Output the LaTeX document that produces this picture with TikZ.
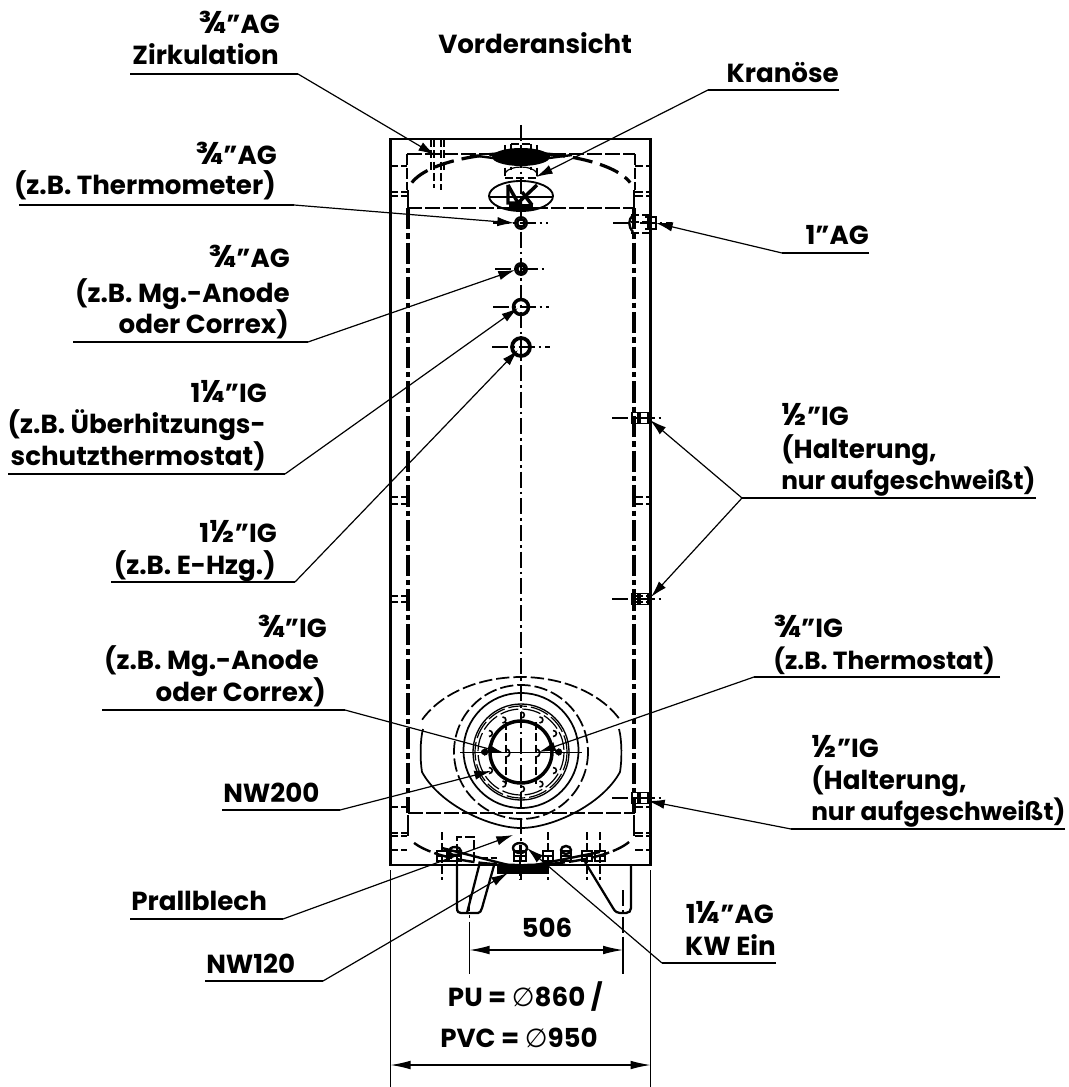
\documentclass[tikz,border=0pt]{standalone}
\usepackage{fontspec}
\usepackage{graphicx}
\setmainfont{Poppins}
\newfontfamily\dvfont{DejaVu Sans}
\newcommand{\fr}[1]{\scalebox{1.2}{#1}}
\newcommand{\dm}{{\mdseries\dvfont ∅}}
\usetikzlibrary{arrows.meta}
\tikzset{
 x=0.75pt,y=-0.75pt,
 lbl/.style={font=\fontsize{19.6}{22}\selectfont\bfseries,inner sep=0pt,text=black},
 lblw/.style={font=\fontsize{18.6}{22}\selectfont\bfseries,inner sep=0pt,text=black},
 ul/.style={line width=0.9pt,black},
 leader/.style={line width=0.9pt,black,-{Latex[length=12.5pt,width=7pt]}},
 dimline/.style={line width=0.9pt,black,{Latex[length=15pt,width=6.5pt]}-{Latex[length=15pt,width=6.5pt]}},
 ext/.style={line width=0.9pt,black},
 body/.style={line width=1.8pt,black},
 heavydash/.style={line width=2pt,black,dash pattern=on 11pt off 2.5pt},
 heavydd/.style={line width=2.4pt,black,dash pattern=on 16pt off 3pt on 4pt off 3pt},
 thin/.style={line width=0.9pt,black},
 tdash/.style={line width=0.9pt,black,dash pattern=on 6pt off 2.5pt},
 cl/.style={line width=0.9pt,black,dash pattern=on 12pt off 3pt on 2pt off 3pt},
 solidm/.style={line width=1.3pt,black},
 dashm/.style={line width=1.3pt,black,dash pattern=on 10pt off 3pt},
}
\begin{document}
\begin{tikzpicture}
\useasboundingbox (0,0) rectangle (1069,1087);
\fill[white] (0,0) rectangle (1069,1087);
% centre lines
\draw[cl] (521,125) -- (521,880);
\draw[cl] (613,223) -- (672,223);
\draw[cl] (493,223) -- (548,223);
\draw[cl] (495,269) -- (548,269);
\draw[cl] (493,307) -- (549,307);
\draw[cl] (492,347) -- (550,347);
\draw[cl] (612,418) -- (665,418);
\draw[cl] (612,599) -- (665,599);
\draw[cl] (612,798) -- (665,798);
% casing and tank
\draw[body] (390.5,865) -- (390.5,139) -- (650.5,139) -- (650.5,865) -- cycle;
\draw[heavydash] (407,208) -- (635,208);
\draw[heavydash] (407,154) -- (635,154);
\draw[heavydash] (408,813) -- (635,813);
\draw[line width=1.4pt,dash pattern=on 8pt off 2.5pt] (407,154) -- (407,190);
\draw[line width=1.4pt,dash pattern=on 8pt off 2.5pt] (635,154) -- (635,190);
\draw[heavydd] (408,208) -- (408,813);
\draw[heavydd] (634,208) -- (634,813);
% dome top
\draw[line width=2.4pt,black,dash pattern=on 15pt off 6pt,domain=-165:-15,samples=60] plot ({521+113*cos(\x)},{193+40*sin(\x)});
\draw[line width=1.8pt] (408,190) -- (408,208) (634,190) -- (634,208);
% dome bottom
\draw[line width=1.8pt,black,domain=20:160,samples=60,dash pattern=on 14pt off 3pt] plot ({521+115*cos(\x)},{830+35*sin(\x)});
\draw[line width=1.8pt] (408,815) -- (408,836) (634,815) -- (634,836);
% side stubs
\foreach \yy in {166,192,196,497,504,596,602,807,833,836,850}{
 \draw[tdash] (390,\yy) -- (407,\yy);
 \draw[tdash] (635,\yy) -- (651,\yy);
}
% circulation fitting
\draw[tdash] (431,139) -- (431,172) (444,139) -- (444,172) (434,139) -- (434,188) (441,139) -- (441,190);
% top flange
\fill[black] (521,157) ellipse [x radius=29, y radius=9];
\draw[line width=1.8pt] (470,155) -- (493,158) (549,158) -- (572,155);
\draw[thin] (505,173) .. controls (510,165) and (532,165) .. (537,173);
\draw[tdash] (505,145) -- (505,178) (537,145) -- (537,178) (511,144) -- (531,144) (511,144)--(511,170) (531,144)--(531,170) (505,178)--(537,178);
% eye
\draw[line width=1.4pt] (521,196) ellipse [x radius=32, y radius=15];
\draw[line width=2.6pt] (508,185) -- (518,203) -- (537,185);
\draw[line width=2.6pt] (508,185) -- (508,203) -- (522,203) (522,192) -- (532,205);
\draw[thin] (490,197) -- (552,197);
\fill[black] (509,204) rectangle (533,211);
% upper ports
\draw[line width=1.4pt] (521,223) circle (6);
\draw[line width=2pt] (521,223) circle (4);
\draw[line width=1.4pt] (521,269) circle (6);
\draw[line width=2.2pt] (521,269) circle (4);
\draw[line width=2.6pt] (521,307) circle (7.5);
\draw[line width=2.8pt] (521,347) circle (9);
% 1" AG fitting
\draw[tdash] (631,215) -- (652,215) (631,233) -- (652,233) (631,222) -- (652,222);
\draw[line width=1.3pt] (645,217) -- (656,217) -- (656,229) -- (645,229) (648,217) -- (648,229);
\draw[line width=1.8pt] (633,215) .. controls (628,220) and (628,226) .. (633,232);
% side welded fittings
\foreach \yy in {418,599,798}{
 \draw[line width=1.2pt] (632,\yy-5.5) rectangle (638,\yy+5.5);
 \draw[line width=1.2pt] (640,\yy-5.5) rectangle (648,\yy+5.5);
 \draw[line width=1.2pt] (632,\yy) -- (648,\yy);
}
% manhole
\draw[dashm,domain=-154:-26,samples=50] plot ({521+110*cos(\x)},{753+76*sin(\x)});
\draw[solidm] (423,729) .. controls (420,740) and (420,760) .. (422,772) .. controls (440,805) and (490,828) .. (521,828) .. controls (552,828) and (602,805) .. (620,772) .. controls (622,760) and (622,740) .. (619,729);
\draw[dashm] (521,752) circle (67);
\draw[solidm] (521,750.5) circle (57.5);
\draw[line width=1pt] (521,752) circle (48);
\draw[line width=0.9pt,dash pattern=on 14pt off 3pt] (521,752) circle (46);
\draw[line width=0.9pt,dash pattern=on 14pt off 3pt] (521,752) circle (43);
\draw[line width=2.6pt] (521,752) circle (31);
\foreach \aa in {0,30,...,330}{
 \draw[line width=1.2pt] ({521+37*cos(\aa)},{752+37*sin(\aa)-3}) .. controls ({521+37*cos(\aa)+4.5},{752+37*sin(\aa)-3}) and ({521+37*cos(\aa)+4.5},{752+37*sin(\aa)+3}) .. ({521+37*cos(\aa)},{752+37*sin(\aa)+3});
}
\fill[black] (484,752) circle (3);
\fill[black] (558,752) circle (3);
\draw[tdash] (506,722) -- (506,784) (536,722) -- (536,784);
\draw[thin] (460,752.5) -- (582,752.5);
\draw[line width=1.2pt] (506,749) .. controls (511,749) and (511,757) .. (506,757) (536,749) .. controls (541,749) and (541,757) .. (536,757);
% bottom fittings
\foreach \xx/\ww in {442/5,455/6,520/6,548/5,566/5,587/5,600/5}{
 \draw[line width=1.5pt] (\xx-\ww,851) rectangle (\xx+\ww,861);
 \draw[thin] (\xx-\ww,856) -- (\xx+\ww,856);
}
\draw[tdash] (442,832) -- (442,880) (548,832) -- (548,880) (587,832) -- (587,880) (600,832) -- (600,880) (520,845)--(520,880);
\draw[line width=1.8pt] (520,848) ellipse [x radius=7, y radius=5];
\draw[line width=1.8pt] (566,850) ellipse [x radius=5, y radius=4];
\draw[line width=1.8pt] (455,851) ellipse [x radius=6, y radius=4];
\fill[black] (497,864) rectangle (548,874);
\draw[line width=1.8pt] (442,848) -- (520,868) -- (600,852);
% legs
\draw[line width=1.7pt] (457,865) -- (457,908) .. controls (457,912) and (459,913) .. (461,913) -- (478,913) .. controls (480,913) and (481,911) .. (482,908) -- (495,862);
\draw[line width=1.7pt] (480,862) -- (467,913);
\draw[line width=1.7pt,dash pattern=on 7pt off 2pt] (457,865) -- (457,837) -- (474,837) -- (474,865);
\draw[line width=1.4pt,dash pattern=on 6pt off 2pt] (480,858) -- (497,858);
\draw[line width=1.7pt] (585,862) -- (613,908) .. controls (615,912) and (618,913) .. (620,913) -- (626,913) .. controls (629,913) and (631,911) .. (631,908) -- (631,865);
% extension lines
\draw[ext,dash pattern=on 12pt off 3pt on 2pt off 3pt] (469.5,895) -- (469.5,937);
\draw[ext] (469.5,937) -- (469.5,974);
\draw[ext,dash pattern=on 12pt off 3pt on 2pt off 3pt] (623,890) -- (623,937);
\draw[ext] (623,937) -- (623,974);
\draw[ext] (390.5,870) -- (390.5,1087);
\draw[ext] (650.5,870) -- (650.5,1087);
\node[lbl,anchor=base] (d506) at (547,937) {506};
\coordinate (dA) at (469.5,950); \coordinate (dB) at (623,950);
\draw[dimline] (dA) -- (dB);
\coordinate (dC) at (390.5,1065); \coordinate (dD) at (650.5,1065);
\draw[dimline] (dC) -- (dD);
\node[lbl,anchor=base east] (pu) at (603,1006) {PU = \dm860 /};
\node[lbl,anchor=base east] (pvc) at (598,1047) {PVC = \dm950};
\node[lbl,anchor=base west] (title) at (438,54) {Vorderansicht};
% labels
\node[lbl,anchor=base east] (a1) at (280,34) {\fr{¾}"AG};
\node[lbl,anchor=base east] (a2) at (279,65) {Zirkulation};
\coordinate (a3) at (130,74); \coordinate (a4) at (298,74); \coordinate (a5) at (435,155);
\draw[ul] (a3) -- (a4); \draw[leader] (a4) -- (a5);
\node[lbl,anchor=base east] (b1) at (839,83) {Kranöse};
\coordinate (b3) at (839,90); \coordinate (b4) at (708,90); \coordinate (b5) at (536,177);
\draw[ul] (b3) -- (b4); \draw[leader] (b4) -- (b5);
\node[lbl,anchor=base east] (c1) at (277,165) {\fr{¾}"AG};
\node[lbl,anchor=base east] (c2) at (276,195) {(z.B. Thermometer)};
\coordinate (c3) at (19,205); \coordinate (c4) at (294,205); \coordinate (c5) at (514,223);
\draw[ul] (c3) -- (c4); \draw[leader] (c4) -- (c5);
\node[lbl,anchor=base east] (e1) at (869,245) {1"AG};
\coordinate (e3) at (869,253); \coordinate (e4) at (782,253); \coordinate (e5) at (656,223);
\draw[ul] (e3) -- (e4); \draw[leader] (e4) -- (e5);
\node[lbl,anchor=base east] (f1) at (290,268) {\fr{¾}"AG};
\node[lbl,anchor=base east] (f2) at (290,302) {(z.B. Mg.-Anode};
\node[lbl,anchor=base east] (f3) at (289,333) {oder Correx)};
\coordinate (f4) at (73,342); \coordinate (f5) at (308,342); \coordinate (f6) at (515,270);
\draw[ul] (f4) -- (f5); \draw[leader] (f5) -- (f6);
\node[lbl,anchor=base east] (g1) at (267,402) {1\fr{¼}"IG};
\node[lbl,anchor=base east] (g2) at (266,433) {(z.B. Überhitzungs-};
\node[lbl,anchor=base east] (g3) at (266,465) {schutzthermostat)};
\coordinate (g4) at (8,474); \coordinate (g5) at (285,474); \coordinate (g6) at (518,308);
\draw[ul] (g4) -- (g5); \draw[leader] (g5) -- (g6);
\node[lbl,anchor=base east] (h1) at (277,542) {1\fr{½}"IG};
\node[lbl,anchor=base east] (h2) at (276,574) {(z.B. E-Hzg.)};
\coordinate (h4) at (111,582); \coordinate (h5) at (295,582); \coordinate (h6) at (518,350);
\draw[ul] (h4) -- (h5); \draw[leader] (h5) -- (h6);
\node[lbl,anchor=base west] (i1) at (781,425) {\fr{½}"IG};
\node[lbl,anchor=base west] (i2) at (781,458) {(Halterung,};
\node[lblw,anchor=base west] (i3) at (781,489) {nur aufgeschweißt)};
\coordinate (i4) at (1036,498); \coordinate (i5) at (742,498); \coordinate (i6) at (650,420); \coordinate (i7) at (651,597);
\draw[ul] (i4) -- (i5); \draw[leader] (i5) -- (i6); \draw[leader] (i5) -- (i7);
\node[lbl,anchor=base east] (j1) at (327,637) {\fr{¾}"IG};
\node[lbl,anchor=base east] (j2) at (319,669) {(z.B. Mg.-Anode};
\node[lbl,anchor=base east] (j3) at (326,701) {oder Correx)};
\coordinate (j4) at (102,710); \coordinate (j5) at (345,710); \coordinate (j6) at (504,753);
\draw[ul] (j4) -- (j5); \draw[leader] (j5) -- (j6);
\node[lbl,anchor=base west] (k1) at (773,637) {\fr{¾}"IG};
\node[lblw,anchor=base west] (k2) at (773,669) {(z.B. Thermostat)};
\coordinate (k4) at (1000,677); \coordinate (k5) at (754,677); \coordinate (k6) at (539,752);
\draw[ul] (k4) -- (k5); \draw[leader] (k5) -- (k6);
\node[lbl,anchor=base west] (l1) at (811,757) {\fr{½}"IG};
\node[lbl,anchor=base west] (l2) at (811,789) {(Halterung,};
\node[lblw,anchor=base west] (l3) at (811,820) {nur aufgeschweißt)};
\coordinate (l4) at (1065,829); \coordinate (l5) at (791,829); \coordinate (l6) at (648,801);
\draw[ul] (l4) -- (l5); \draw[leader] (l5) -- (l6);
\node[lbl,anchor=base west] (m1) at (223,802) {NW200};
\coordinate (m4) at (222,810); \coordinate (m5) at (340,810); \coordinate (m6) at (491,771);
\draw[ul] (m4) -- (m5); \draw[leader] (m5) -- (m6);
\node[lbl,anchor=base west] (n1) at (131,910) {Prallblech};
\coordinate (n4) at (130,919); \coordinate (n5) at (283,919); \coordinate (n6) at (513,835);
\draw[ul] (n4) -- (n5); \draw[leader] (n5) -- (n6);
\node[lbl,anchor=base west] (o1) at (206,973) {NW120};
\coordinate (o4) at (205,981); \coordinate (o5) at (323,981); \coordinate (o6) at (508,873);
\draw[ul] (o4) -- (o5); \draw[leader] (o5) -- (o6);
\node[lbl,anchor=base east] (q1) at (774,923) {1\fr{¼}"AG};
\node[lbl,anchor=base east] (q2) at (776,955) {KW Ein};
\coordinate (q4) at (776,963); \coordinate (q5) at (662,963); \coordinate (q6) at (527,848);
\draw[ul] (q4) -- (q5); \draw[leader] (q5) -- (q6);
\end{tikzpicture}
\end{document}
